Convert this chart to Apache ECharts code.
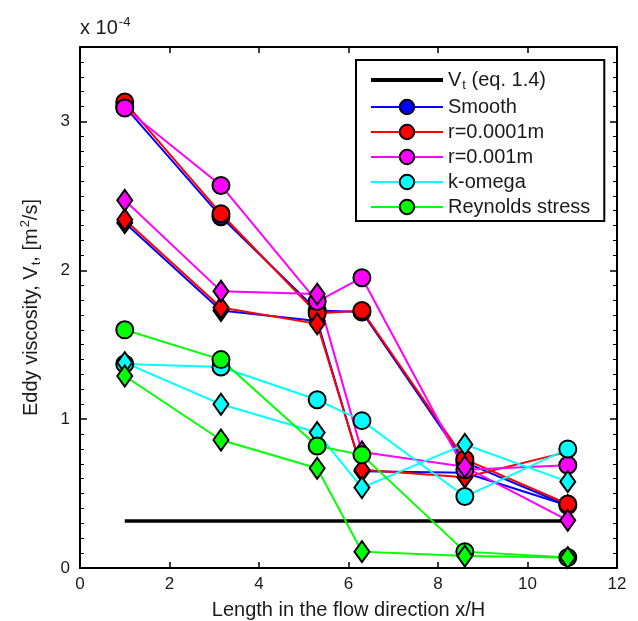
<!DOCTYPE html>
<html><head><meta charset="utf-8">
<script src="https://cdn.jsdelivr.net/npm/echarts@6/dist/echarts.min.js"></script>
<style>html,body{margin:0;padding:0;background:#fff}#c{width:638px;height:621px}</style>
</head><body><div id="c"></div>
<script>
// x positions (x/H) of the measurement stations
const xPos = [1.0, 3.15, 5.3, 6.3, 8.6, 10.9];
// reference eddy viscosity line (eq. 1.4), values in units of 1e-4 m^2/s
const vtX = [1.0, 10.9];
const vtY = [0.315, 0.315];
// series values, units of 1e-4 m^2/s
const smoothCircle    = [3.10, 2.36, 1.73, 1.72, 0.71, 0.42];
const smoothDiamond   = [2.32, 1.73, 1.66, 0.65, 0.64, 0.42];
const r0001Circle     = [3.13, 2.38, 1.71, 1.73, 0.73, 0.43];
const r0001Diamond    = [2.34, 1.75, 1.64, 0.66, 0.61, 0.78];
const r001Circle      = [3.09, 2.57, 1.79, 1.95, 0.66, 0.69];
const r001Diamond     = [2.47, 1.86, 1.84, 0.78, 0.68, 0.32];
const kOmegaCircle    = [1.37, 1.35, 1.13, 0.99, 0.48, 0.80];
const kOmegaDiamond   = [1.38, 1.10, 0.91, 0.54, 0.83, 0.58];
const reynoldsCircle  = [1.60, 1.40, 0.82, 0.76, 0.11, 0.07];
const reynoldsDiamond = [1.29, 0.86, 0.67, 0.11, 0.08, 0.07];
// axis ticks
const xTicks = [0, 2, 4, 6, 8, 10, 12];
const yTicks = [0, 1, 2, 3];
const legendNames = ['Vt', 'Smooth', 'r=0.0001m', 'r=0.001m', 'k-omega', 'Reynolds stress'];

const FONT = "'Liberation Sans', Arial, Helvetica, sans-serif";
const TXT = '#1a1a1a';

function pts(ys) { return ys.map((y, i) => [xPos[i], y]); }
function mk(name, color, ys, diamond) {
  return {
    type: 'line', name: name, data: pts(ys),
    symbol: diamond ? 'diamond' : 'circle',
    symbolSize: diamond ? [15, 21] : 17,
    lineStyle: { color: color, width: 2 },
    itemStyle: { color: color, borderColor: '#000', borderWidth: 2 },
    emphasis: { disabled: true },
    animation: false, z: 3
  };
}
const groups = [
  ['Smooth', '#0000ff', smoothCircle, smoothDiamond],
  ['r=0.0001m', '#ff0000', r0001Circle, r0001Diamond],
  ['r=0.001m', '#ff00ff', r001Circle, r001Diamond],
  ['k-omega', '#00ffff', kOmegaCircle, kOmegaDiamond],
  ['Reynolds stress', '#00ff00', reynoldsCircle, reynoldsDiamond]
];
const series = [{
  type: 'line', name: 'Vt', data: vtX.map((x, i) => [x, vtY[i]]),
  symbol: 'none', lineStyle: { color: '#000', width: 3.5 },
  itemStyle: { color: '#000' }, animation: false, z: 2
}];
groups.forEach(g => {
  series.push(mk(g[0], g[1], g[2], false));
  series.push(mk(g[0] + ' (diamond)', g[1], g[3], true));
});

const axisCommon = {
  axisLine: { show: true, onZero: false, lineStyle: { color: '#000', width: 2 } },
  splitLine: { show: false }
};
const chart = echarts.init(document.getElementById('c'));
chart.setOption({
  backgroundColor: '#fff',
  animation: false,
  grid: { left: 80, right: 21, top: 47, bottom: 53, containLabel: false, outerBoundsMode: 'none' },
  textStyle: { fontFamily: FONT },
  xAxis: [
    Object.assign({}, axisCommon, {
      type: 'value', min: xTicks[0], max: xTicks[xTicks.length - 1], interval: 2, position: 'bottom',
      axisTick: { show: true, inside: true, length: 6, lineStyle: { color: '#000', width: 1.5 } },
      axisLabel: { fontSize: 17, color: TXT, margin: 8, fontFamily: FONT },
      name: 'Length in the flow direction x/H', nameLocation: 'middle', nameGap: 32,
      nameTextStyle: { fontSize: 20, color: TXT, fontFamily: FONT }
    }),
    Object.assign({}, axisCommon, {
      type: 'value', min: xTicks[0], max: xTicks[xTicks.length - 1], interval: 2, position: 'top',
      axisTick: { show: true, inside: true, length: 6, lineStyle: { color: '#000', width: 1.5 } },
      axisLabel: { show: false }
    })
  ],
  yAxis: [
    Object.assign({}, axisCommon, {
      type: 'value', min: yTicks[0], max: 3.5, interval: 1, position: 'left',
      axisTick: { show: true, inside: true, length: 7, lineStyle: { color: '#000', width: 1.5 } },
      minorTick: { show: true, splitNumber: 10, length: 4, lineStyle: { color: '#000', width: 1 } },
      axisLabel: { fontSize: 17, color: TXT, margin: 10, fontFamily: FONT,
        formatter: v => (yTicks.indexOf(v) >= 0 ? String(v) : '') },
      name: '{n|Eddy viscosity, V}{sub|t}{n|, [m}{sup|2}{n|/s]}',
      nameLocation: 'middle', nameGap: 37, nameRotate: 90,
      nameTextStyle: { fontSize: 20, color: TXT, fontFamily: FONT,
        rich: {
          n: { fontSize: 20, color: TXT, fontFamily: FONT },
          sub: { fontSize: 13, color: TXT, fontFamily: FONT, padding: [11, 0, 0, 1] },
          sup: { fontSize: 13, color: TXT, fontFamily: FONT, padding: [0, 0, 11, 1] }
        } }
    }),
    Object.assign({}, axisCommon, {
      type: 'value', min: yTicks[0], max: 3.5, interval: 1, position: 'right',
      axisTick: { show: true, inside: true, length: 7, lineStyle: { color: '#000', width: 1.5 } },
      minorTick: { show: true, splitNumber: 10, length: 4, lineStyle: { color: '#000', width: 1 } },
      axisLabel: { show: false }
    })
  ],
  legend: {
    data: legendNames.map(n => n === 'Vt'
      ? { name: n, icon: 'path://M0,0 L72,0 L72,4 L0,4 Z' }
      : { name: n }),
    orient: 'vertical', left: 356, top: 60,
    padding: [10, 14, 4, 14], itemGap: 5, itemWidth: 72, itemHeight: 18,
    backgroundColor: '#fff', borderColor: '#000', borderWidth: 2, borderRadius: 0,
    selectedMode: false,
    textStyle: { fontSize: 20, color: TXT, fontFamily: FONT,
      rich: {
        n: { fontSize: 20, color: TXT, fontFamily: FONT },
        sub: { fontSize: 13, color: TXT, fontFamily: FONT, padding: [11, 0, 0, 1] }
      } },
    formatter: name => name === 'Vt' ? '{n|V}{sub|t}{n| (eq. 1.4)}' : name
  },
  graphic: [{
    type: 'text', left: 80, top: 16,
    style: { text: '{n|x 10}{sup|-4}', fill: TXT,
      rich: {
        n: { fontSize: 20, fontFamily: FONT, fill: TXT },
        sup: { fontSize: 13, fontFamily: FONT, fill: TXT, padding: [0, 0, 11, 1] }
      } }
  }],
  series: series
});
</script></body></html>
